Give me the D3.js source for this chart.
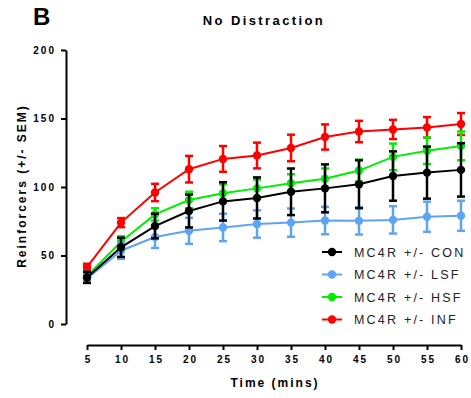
<!DOCTYPE html>
<html>
<head>
<meta charset="utf-8">
<script src="https://cdn.jsdelivr.net/npm/d3@7"></script>
<style>
  body { margin: 0; background: #fff; }
  svg { font-family: "Liberation Sans", Arial, sans-serif; }
</style>
</head>
<body>
<svg id="chart"></svg>
<script>
// time points (mins)
const times = [5, 10, 15, 20, 25, 30, 35, 40, 45, 50, 55, 60];
const xTicks = [5, 10, 15, 20, 25, 30, 35, 40, 45, 50, 55, 60];
const yTicks = [0, 50, 100, 150, 200];

const groups = ["MC4R +/- CON", "MC4R +/- LSF", "MC4R +/- HSF", "MC4R +/- INF"];
const colors = ["#000000", "#5fa4f2", "#00ee00", "#ff0000"];

const conMean = [34, 56, 71.5, 82.5, 89.5, 92, 96.5, 99, 102, 108, 110.5, 112.5];
const conSem  = [4, 7, 9, 12, 14, 15, 17, 17.5, 17.5, 18, 19, 19.5];
const lsfMean = [33, 53.5, 63.5, 68, 70.5, 73, 74, 75.5, 75.3, 76, 78.3, 79];
const lsfSem  = [3, 6, 8, 9.5, 10, 10, 10.3, 10, 10, 10, 11, 11];
const hsfMean = [35, 60, 80, 90.5, 95.5, 99, 102.7, 106, 112, 122, 126.5, 130];
const hsfSem  = [3, 4, 4.5, 6, 6.5, 6.5, 6.6, 7.5, 8, 9.7, 9.7, 10.5];
const infMean = [41.5, 74, 96, 113, 120.5, 123, 128.5, 136.5, 140.5, 142, 143.5, 146];
const infSem  = [2.5, 3.3, 6.3, 9.7, 9.4, 9.4, 9.7, 9.2, 7.8, 7, 7.5, 8];

const series = [
  { name: groups[0], color: colors[0], mean: conMean, sem: conSem },
  { name: groups[1], color: colors[1], mean: lsfMean, sem: lsfSem },
  { name: groups[2], color: colors[2], mean: hsfMean, sem: hsfSem },
  { name: groups[3], color: colors[3], mean: infMean, sem: infSem }
];

const width = 471, height = 398;

const svg = d3.select("#chart")
  .attr("width", width)
  .attr("height", height);

const x = d3.scaleLinear().domain([5, 60]).range([87, 461]);
const y = d3.scaleLinear().domain([0, 200]).range([324, 50]);

// panel letter + title
svg.append("text")
  .attr("x", 33).attr("y", 25)
  .style("font-size", "24px").style("font-weight", "bold")
  .text("B");

svg.append("text")
  .attr("x", 264).attr("y", 25)
  .attr("text-anchor", "middle")
  .style("font-size", "13px").style("font-weight", "bold")
  .style("letter-spacing", "2.4px")
  .text("No Distraction");

// y axis
const yAxis = svg.append("g")
  .attr("transform", "translate(66,0)")
  .call(d3.axisLeft(y).tickValues(yTicks).tickSize(5).tickSizeOuter(0).tickPadding(5));
yAxis.select(".domain").attr("stroke-width", 2);
yAxis.selectAll(".tick line").attr("stroke-width", 2);
yAxis.selectAll("text")
  .style("font-size", "10px").style("font-weight", "bold")
  .style("letter-spacing", "2px")
  .attr("fill", "#000");

// x axis
const xAxis = svg.append("g")
  .attr("transform", "translate(0,345)")
  .call(d3.axisBottom(x).tickValues(xTicks).tickSize(5).tickSizeOuter(0).tickPadding(6));
xAxis.select(".domain").attr("stroke-width", 2);
xAxis.selectAll(".tick line").attr("stroke-width", 2);
xAxis.selectAll("text")
  .style("font-size", "10px").style("font-weight", "bold")
  .style("letter-spacing", "2px")
  .attr("dx", "1px")
  .attr("fill", "#000");

// axis titles
svg.append("text")
  .attr("x", 275).attr("y", 387)
  .attr("text-anchor", "middle")
  .style("font-size", "12px").style("font-weight", "bold")
  .style("letter-spacing", "2px")
  .text("Time (mins)");

svg.append("text")
  .attr("transform", "translate(26,186) rotate(-90)")
  .attr("text-anchor", "middle")
  .style("font-size", "12px").style("font-weight", "bold")
  .style("letter-spacing", "2px")
  .text("Reinforcers (+/- SEM)");

// series, drawn back to front so CON ends on top
const line = d3.line().x((d, i) => x(times[i])).y(d => y(d));
const capW = 4;

series.slice().reverse().forEach(s => {
  const g = svg.append("g");
  g.append("path")
    .datum(s.mean)
    .attr("fill", "none")
    .attr("stroke", s.color)
    .attr("stroke-width", 2)
    .attr("d", line);

  const eb = g.selectAll(".err")
    .data(s.mean.map((m, i) => ({ t: times[i], m: m, e: s.sem[i] })))
    .enter().append("g");
  eb.append("line")
    .attr("x1", d => x(d.t)).attr("x2", d => x(d.t))
    .attr("y1", d => y(d.m - d.e)).attr("y2", d => y(d.m + d.e))
    .attr("stroke", s.color).attr("stroke-width", 2.5);
  eb.append("line")
    .attr("x1", d => x(d.t) - capW).attr("x2", d => x(d.t) + capW)
    .attr("y1", d => y(d.m + d.e)).attr("y2", d => y(d.m + d.e))
    .attr("stroke", s.color).attr("stroke-width", 2.5);
  eb.append("line")
    .attr("x1", d => x(d.t) - capW).attr("x2", d => x(d.t) + capW)
    .attr("y1", d => y(d.m - d.e)).attr("y2", d => y(d.m - d.e))
    .attr("stroke", s.color).attr("stroke-width", 2.5);

  g.selectAll("circle")
    .data(s.mean)
    .enter().append("circle")
    .attr("cx", (d, i) => x(times[i]))
    .attr("cy", d => y(d))
    .attr("r", 4.2)
    .attr("fill", s.color);
});

// legend
const legend = svg.append("g").attr("transform", "translate(322,252)");
series.forEach((s, i) => {
  const row = legend.append("g").attr("transform", `translate(0,${i * 22.5})`);
  row.append("line")
    .attr("x1", 0).attr("x2", 20).attr("y1", 0).attr("y2", 0)
    .attr("stroke", s.color).attr("stroke-width", 2);
  row.append("circle").attr("cx", 10).attr("cy", 0).attr("r", 4.2).attr("fill", s.color);
  row.append("text")
    .attr("x", 32).attr("y", 4.5)
    .style("font-size", "12.5px")
    .style("letter-spacing", "2.2px")
    .attr("fill", "#222")
    .text(s.name);
});
</script>
</body>
</html>
